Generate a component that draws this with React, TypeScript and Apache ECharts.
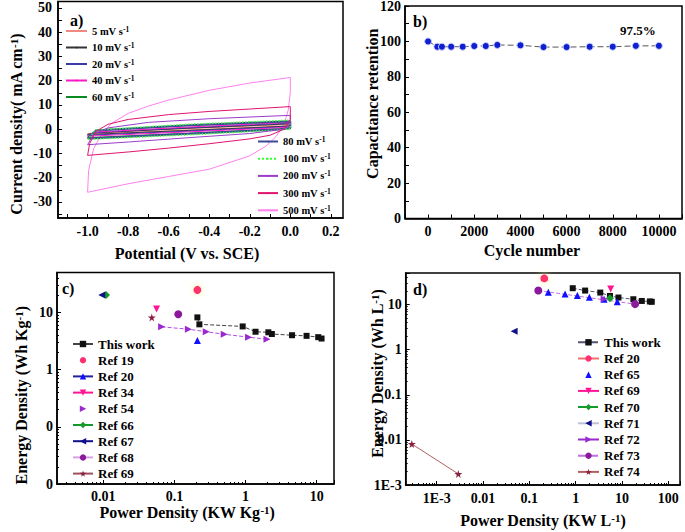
import React, { useEffect, useRef } from 'react';
import * as echarts from 'echarts';

// ---------- Panel a: CV curves (potential V, current mA cm-2) ----------
const cvNames = ['5 mV s-1', '10 mV s-1', '20 mV s-1', '40 mV s-1', '60 mV s-1', '80 mV s-1', '100 mV s-1', '200 mV s-1', '300 mV s-1', '500 mV s-1'];
const cv5 = [[-1, -1.9], [-0.96, -1.4], [-0.5, 0.3], [0, 1.9], [0, 1.4], [-0.05, 1.2], [-0.5, -0.3], [-1, -1.9]];
const cv10 = [[-1, -2.2], [-0.96, -1.5], [-0.5, 0.4], [0, 2.2], [0, 1.4], [-0.05, 1.1], [-0.5, -0.5], [-1, -2.2]];
const cv20 = [[-1, -2.5], [-0.96, -1.4], [-0.5, 0.6], [0, 2.5], [0, 1.2], [-0.05, 0.9], [-0.5, -0.8], [-1, -2.5]];
const cv40 = [[-1, -2.9], [-0.96, -1.2], [-0.5, 0.9], [0, 2.8], [0, 1.0], [-0.05, 0.6], [-0.5, -1.1], [-1, -2.9]];
const cv60 = [[-1, -3.5], [-0.96, -0.5], [-0.5, 1.5], [0, 3.2], [0, 0.6], [-0.05, 0.1], [-0.5, -1.7], [-1, -3.5]];
const cv80 = [[-1, -3.8], [-0.96, -0.6], [-0.5, 1.6], [0, 3.3], [0, 0.4], [-0.05, 0], [-0.5, -1.9], [-1, -3.8]];
const cv100 = [[-1, -4.2], [-0.96, -0.3], [-0.5, 2.0], [0, 3.7], [0, 0.2], [-0.05, -0.3], [-0.5, -2.3], [-1, -4.2]];
const cv200 = [[-1, -6.4], [-0.97, -2], [-0.9, 0.5], [-0.7, 2.8], [-0.4, 4.3], [0, 5.7], [0, 2], [-0.03, 0], [-0.2, -1.8], [-0.5, -3.5], [-0.8, -5.3], [-1, -6.4]];
const cv300 = [[-1, -10.8], [-0.99, -6], [-0.96, -1], [-0.9, 2], [-0.8, 4], [-0.6, 6], [-0.4, 7.3], [-0.2, 8.3], [0, 9.3], [0, 4], [-0.03, 0], [-0.1, -2.5], [-0.2, -4], [-0.4, -6], [-0.6, -7.8], [-0.8, -9.4], [-1, -10.8]];
const cv500 = [[-1, -26], [-0.995, -17], [-0.97, -8], [-0.93, -2], [-0.88, 2.5], [-0.8, 6.5], [-0.7, 9.5], [-0.6, 12], [-0.4, 16], [-0.2, 19], [0, 21.3], [0, 15], [-0.01, 8], [-0.03, 2], [-0.07, -3], [-0.12, -7], [-0.2, -11], [-0.4, -16.5], [-0.6, -19.5], [-0.8, -22.5], [-1, -26]];
const cvLoops = [cv5, cv10, cv20, cv40, cv60, cv80, cv100, cv200, cv300, cv500];
const aXLabelVals = [-1.0, -0.8, -0.6, -0.4, -0.2, 0.0, 0.2];
const aXTickVals = [-1.1, -1.0, -0.9, -0.8, -0.7, -0.6, -0.5, -0.4, -0.3, -0.2, -0.1, 0.0, 0.1, 0.2];
const aYLabelVals = [-30, -20, -10, 0, 10, 20, 30, 40, 50];
const aYTickVals = [-35, -30, -25, -20, -15, -10, -5, 0, 5, 10, 15, 20, 25, 30, 35, 40, 45, 50];

// ---------- Panel b: cycling ----------
const cycles = [0, 400, 600, 1000, 1500, 2000, 2500, 3000, 4000, 5000, 6000, 7000, 8000, 9000, 10000];
const retention = [100, 97, 97, 97, 97, 97.4, 97.4, 98, 97.8, 96.8, 96.8, 97, 97, 97.5, 97.5];
const bXLabelVals = [0, 2000, 4000, 6000, 8000, 10000];
const bXTickVals = [-1000, 0, 1000, 2000, 3000, 4000, 5000, 6000, 7000, 8000, 9000, 10000, 11000];
const bYLabelVals = [0, 20, 40, 60, 80, 100, 120];
const bYTickVals = [0, 10, 20, 30, 40, 50, 60, 70, 80, 90, 100, 110, 120];

// ---------- Panel c: Ragone (gravimetric) ----------
const cThisP = [0.21, 0.224, 0.91, 1.38, 2.09, 2.34, 4.5, 7.2, 10.5, 11.7];
const cThisE = [8.2, 6.2, 5.7, 4.6, 4.5, 4.2, 4.0, 3.9, 3.7, 3.5];
const cRef19P = [0.21]; const cRef19E = [24.8];
const cRef20P = [0.21]; const cRef20E = [3.25];
const cRef34P = [0.056]; const cRef34E = [11.5];
const cRef54P = [0.066, 0.157, 0.28, 0.5, 1.1, 2.0];
const cRef54E = [5.6, 5.1, 4.6, 4.15, 3.7, 3.4];
const cRef66P = [0.0109]; const cRef66E = [20.2];
const cRef67P = [0.0095]; const cRef67E = [20.2];
const cRef68P = [0.113]; const cRef68E = [9.3];
const cRef69P = [0.048]; const cRef69E = [8.2];
const cXLabelVals = [0.01, 0.1, 1, 10];
const cXLabels = ['0.01', '0.1', '1', '10'];
const cYLabelVals = [0.01, 0.1, 1, 10];
const cYLabels = ['0', '0', '1', '10'];

// ---------- Panel d: Ragone (volumetric) ----------
const dThisP = [0.865, 1.6, 3.4, 5.5, 8.4, 17.6, 26.8, 40, 44];
const dThisE = [23, 20.4, 18.4, 15.5, 14.3, 13.1, 12, 11.7, 11.5];
const dRef20P = [0.21]; const dRef20E = [38];
const dRef65P = [0.257, 0.59, 1.09, 1.98, 4.1, 7.9];
const dRef65E = [18.7, 17.2, 15.8, 14.5, 13.1, 11.6];
const dRef69P = [5.7]; const dRef69E = [22];
const dRef70P = [5.5]; const dRef70E = [13.8];
const dRef71P = [0.047]; const dRef71E = [2.57];
const dRef72P = [4.1]; const dRef72E = [13.3];
const dRef73P = [0.156, 19.2]; const dRef73E = [20.4, 10.2];
const dRef74P = [0.00029, 0.00293]; const dRef74E = [0.0081, 0.00176];
const dXLabelVals = [0.001, 0.01, 0.1, 1, 10, 100];
const dXLabels = ['1E-3', '0.01', '0.1', '1', '10', '100'];
const dYLabelVals = [0.001, 0.01, 0.1, 1, 10];
const dYLabels = ['1E-3', '0.01', '0.1', '1', '10'];

// ---------- styling ----------
const FONT = "'Liberation Serif', 'Times New Roman', serif";
const STAR = 'path://M50,0 L61,35 L98,35 L68,57 L79,91 L50,70 L21,91 L32,57 L2,35 L39,35 Z';
const cvColors = ['#f08a80', '#333333', '#3a3aa8', '#ff18c8', '#0a8a20', '#3c4a96', '#33ff33', '#9a3ccc', '#e0146e', '#ff80ee'];
const cvWidths = [1, 1, 1, 1, 1, 2, 1.5, 1, 1, 1];

const zip = (xs: number[], ys: number[]) => xs.map((x, i) => [x, ys[i]]);
const logLabel = (vals: number[], labels: string[]) => (v: number) => {
  for (let i = 0; i < vals.length; i++) {
    if (Math.abs(Math.log10(v) - Math.log10(vals[i])) < 0.01) return labels[i];
  }
  return '';
};
const minorLogTicks = (min: number, max: number) => {
  const out: number[] = [];
  for (let e = -5; e <= 3; e++) {
    for (let m = 2; m <= 9; m++) {
      const v = m * Math.pow(10, e);
      if (v > min && v < max) out.push(Math.log10(v));
    }
  }
  return out;
};

const tickLbl = { fontFamily: FONT, fontWeight: 'bold' as const, fontSize: 14, color: '#000' };
const axisLine = { show: true, onZero: false, lineStyle: { color: '#000', width: 1.5 } };
const nameRich = {
  n: { fontFamily: FONT, fontWeight: 'bold', fontSize: 16, color: '#000' },
  s: { fontFamily: FONT, fontWeight: 'bold', fontSize: 11, color: '#000', verticalAlign: 'top' },
};
const nameStyle = (padding: number[]) => ({ fontFamily: FONT, fontWeight: 'bold', fontSize: 16, color: '#000', rich: nameRich, padding });

const C_MIN_X = 0.00223, C_MAX_X = 17.5, C_MIN_Y = 0.01, C_MAX_Y = 50;
const D_MIN_X = 0.000214, D_MAX_X = 179, D_MIN_Y = 0.001, D_MAX_Y = 50;

export default function App() {
  const ref = useRef<HTMLDivElement>(null);
  useEffect(() => {
    if (!ref.current) return;
    const chart = echarts.init(ref.current, undefined, { renderer: 'svg' });

    const linX = (gridIndex: number, min: number, max: number, labelVals: number[], tickVals: number[], fmt: (v: number) => string, name: string, nameGap: number, pad: number[]) => ({
      type: 'value', gridIndex, min, max, position: 'bottom',
      axisLine,
      axisTick: { show: true, inside: true, length: 4, lineStyle: { color: '#000', width: 1 }, customValues: tickVals },
      axisLabel: { ...tickLbl, margin: 6, customValues: labelVals, formatter: fmt, showMinLabel: true, showMaxLabel: true, hideOverlap: false },
      splitLine: { show: false },
      name, nameLocation: 'middle', nameGap, nameMoveOverlap: false, nameTextStyle: nameStyle(pad),
    });
    const linY = (gridIndex: number, min: number, max: number, labelVals: number[], tickVals: number[], name: string, nameGap: number, pad: number[], margin: number) => ({
      type: 'value', gridIndex, min, max, position: 'left',
      axisLine,
      axisTick: { show: true, inside: true, length: 4, lineStyle: { color: '#000', width: 1 }, customValues: tickVals },
      axisLabel: { ...tickLbl, margin, customValues: labelVals, formatter: (v: number) => String(v), showMinLabel: true, showMaxLabel: true },
      splitLine: { show: false },
      name, nameLocation: 'middle', nameGap, nameRotate: 90, nameMoveOverlap: false, nameTextStyle: nameStyle(pad),
    });
    const logAxis = (gridIndex: number, min: number, max: number, vals: number[], labels: string[], pos: string, name: string, nameGap: number, pad: number[], margin: number) => ({
      type: 'log', logBase: 10, gridIndex, min, max, position: pos,
      axisLine,
      axisTick: { show: true, inside: true, length: 4, lineStyle: { color: '#000', width: 1 } },
      axisLabel: { ...tickLbl, margin, showMinLabel: true, showMaxLabel: true, formatter: logLabel(vals, labels) },
      splitLine: { show: false }, minorTick: { show: false },
      name, nameLocation: 'middle', nameGap, nameRotate: pos === 'left' ? 90 : 0, nameMoveOverlap: false, nameTextStyle: nameStyle(pad),
    });
    const minorAxis = (gridIndex: number, min: number, max: number, pos: string) => ({
      type: 'value', gridIndex, min: Math.log10(min), max: Math.log10(max), position: pos,
      axisLine: { show: false, onZero: false },
      axisTick: { show: true, inside: true, length: 2, lineStyle: { color: '#000', width: 1 }, customValues: minorLogTicks(min, max) },
      axisLabel: { show: false }, splitLine: { show: false },
    });

    const cvSeries = cvNames.map((name, i) => ({
      type: 'line', name, xAxisIndex: 0, yAxisIndex: 0, data: cvLoops[i], symbol: 'none',
      lineStyle: { color: cvColors[i], width: cvWidths[i], type: i === 6 ? 'dotted' : 'solid' },
      itemStyle: { color: cvColors[i] }, z: i === 9 ? 1 : 2,
    }));

    const pt = (name: string, xi: number, yi: number, data: number[][], symbol: string, color: string, opts: any = {}) => ({
      type: 'line', name, xAxisIndex: xi, yAxisIndex: yi, data, symbol, symbolSize: opts.size || 7,
      symbolRotate: opts.rot || 0,
      itemStyle: { color, ...(opts.glow ? { shadowColor: '#fff09a', shadowBlur: 6 } : {}) },
      lineStyle: { color: opts.lineColor || color, width: opts.lw || 1, type: opts.dash ? 'dashed' : 'solid', opacity: opts.noLine ? 0 : 1 },
      z: 3,
    });

    const series: any[] = [
      ...cvSeries,
      {
        type: 'line', name: 'b|cycle', xAxisIndex: 1, yAxisIndex: 1, data: zip(cycles, retention),
        symbol: 'circle', symbolSize: 7, itemStyle: { color: '#1020d0', borderColor: '#c8d0ff', borderWidth: 1 },
        lineStyle: { color: '#555', width: 1, type: [6, 3] },
      },
      pt('c|This work', 2, 2, zip(cThisP, cThisE), 'rect', '#111', { lineColor: '#444', dash: true, size: 6 }),
      pt('c|Ref 19', 2, 2, zip(cRef19P, cRef19E), 'circle', '#ff3070', { size: 8, noLine: true, glow: true }),
      pt('c|Ref 20', 2, 2, zip(cRef20P, cRef20E), 'triangle', '#1010ff', { lineColor: '#2020a0' }),
      pt('c|Ref 34', 2, 2, zip(cRef34P, cRef34E), 'triangle', '#ff1493', { rot: 180 }),
      pt('c|Ref 54', 2, 2, zip(cRef54P, cRef54E), 'triangle', '#9a2ad0', { rot: -90, dash: true, lineColor: '#b050e0' }),
      pt('c|Ref 66', 2, 2, zip(cRef66P, cRef66E), 'diamond', '#139a2a', { size: 8 }),
      pt('c|Ref 67', 2, 2, zip(cRef67P, cRef67E), 'triangle', '#10108a', { rot: 90 }),
      pt('c|Ref 68', 2, 2, zip(cRef68P, cRef68E), 'circle', '#8a1a9a', { lineColor: '#d8a0e8', size: 8 }),
      pt('c|Ref 69', 2, 2, zip(cRef69P, cRef69E), STAR, '#8a2040', { lineColor: '#a05060', size: 8 }),
      pt('d|This work', 3, 3, zip(dThisP, dThisE), 'rect', '#111', { lineColor: '#555577', dash: true, size: 6 }),
      pt('d|Ref 20', 3, 3, zip(dRef20P, dRef20E), 'circle', '#ff3070', { lineColor: '#f07070', size: 8, glow: true }),
      pt('d|Ref 65', 3, 3, zip(dRef65P, dRef65E), 'triangle', '#1010ff', { noLine: true }),
      pt('d|Ref 69', 3, 3, zip(dRef69P, dRef69E), 'triangle', '#ff1493', { rot: 180 }),
      pt('d|Ref 70', 3, 3, zip(dRef70P, dRef70E), 'diamond', '#139a2a', { dash: true, size: 8 }),
      pt('d|Ref 71', 3, 3, zip(dRef71P, dRef71E), 'triangle', '#10108a', { rot: 90, lineColor: '#c0c0d8' }),
      pt('d|Ref 72', 3, 3, zip(dRef72P, dRef72E), 'triangle', '#9a2ad0', { rot: -90 }),
      pt('d|Ref 73', 3, 3, zip(dRef73P, dRef73E), 'circle', '#8a1a9a', { lineColor: '#c070e0', dash: true, size: 8 }),
      pt('d|Ref 74', 3, 3, zip(dRef74P, dRef74E), STAR, '#8a2040', { lineColor: '#b06060', size: 8 }),
    ];

    const legendTxt = { fontFamily: FONT, fontWeight: 'bold' as const, fontSize: 13, color: '#000', lineHeight: 14 };
    const cvLegendText = {
      fontFamily: FONT, fontWeight: 'bold', fontSize: 10.5, color: '#000',
      rich: {
        n: { fontFamily: FONT, fontWeight: 'bold', fontSize: 10.5, color: '#000', lineHeight: 12 },
        s: { fontFamily: FONT, fontWeight: 'bold', fontSize: 7.5, color: '#000', verticalAlign: 'top', lineHeight: 7 },
      },
    };
    const cvFmt = (name: string) => `{n|${name.slice(0, -2)}}{s|-1}`;
    const stripFmt = (name: string) => name.split('|')[1];
    const noLine = (name: string) => ({ name, lineStyle: { opacity: 0 } });

    const option: any = {
      animation: false,
      backgroundColor: '#fff',
      grid: [
        { left: 58, top: 1.5, width: 285, height: 216.5, show: true, borderColor: '#000', borderWidth: 1.5, backgroundColor: 'transparent', outerBoundsMode: 'none' },
        { left: 405, top: 6, width: 277, height: 212.5, show: true, borderColor: '#000', borderWidth: 1.5, backgroundColor: 'transparent', outerBoundsMode: 'none' },
        { left: 57, top: 272.5, width: 277, height: 211.5, show: true, borderColor: '#000', borderWidth: 1.5, backgroundColor: 'transparent', outerBoundsMode: 'none' },
        { left: 405.7, top: 273, width: 274.3, height: 212, show: true, borderColor: '#000', borderWidth: 1.5, backgroundColor: 'transparent', outerBoundsMode: 'none' },
      ],
      xAxis: [
        linX(0, -1.146, 0.26, aXLabelVals, aXTickVals, (v: number) => v.toFixed(1), 'Potential (V vs. SCE)', 27, [0, 27, 0, 0]),
        linX(1, -1000, 11000, bXLabelVals, bXTickVals, (v: number) => String(v), 'Cycle number', 24, [0, 23, 0, 0]),
        logAxis(2, C_MIN_X, C_MAX_X, cXLabelVals, cXLabels, 'bottom', '{n|Power Density (KW Kg}{s|-1}{n|)}', 20, [0, 17, 0, 0], 5),
        logAxis(3, D_MIN_X, D_MAX_X, dXLabelVals, dXLabels, 'bottom', '{n|Power Density (KW L}{s|-1}{n|)}', 27, [0, 0, 0, 0], 6),
        minorAxis(2, C_MIN_X, C_MAX_X, 'bottom'),
        minorAxis(3, D_MIN_X, D_MAX_X, 'bottom'),
      ],
      yAxis: [
        linY(0, -36.6, 52.6, aYLabelVals, aYTickVals, '{n|Current density( mA cm}{s|-1}{n|)}', 34, [0, 29, 0, 0], 6),
        linY(1, 0, 120, bYLabelVals, bYTickVals, 'Capacitance retention', 25, [0, 0, 0, 17], 4),
        logAxis(2, C_MIN_Y, C_MAX_Y, cYLabelVals, cYLabels, 'left', '{n|Energy Density (Wh Kg}{s|-1}{n|)}', 28, [0, 34, 0, 0], 4),
        logAxis(3, D_MIN_Y, D_MAX_Y, dYLabelVals, dYLabels, 'left', '{n|Energy Density (Wh L}{s|-1}{n|)}', 20, [0, 0, 0, 11], 4),
        minorAxis(2, C_MIN_Y, C_MAX_Y, 'left'),
        minorAxis(3, D_MIN_Y, D_MAX_Y, 'left'),
      ],
      legend: [
        {
          data: cvNames.slice(0, 5), orient: 'vertical', left: 65, top: 25, padding: 0, itemWidth: 21, itemHeight: 2, itemGap: 5,
          formatter: cvFmt, textStyle: cvLegendText, selectedMode: false,
        },
        {
          data: cvNames.slice(5), orient: 'vertical', left: 257, top: 135.5, padding: 0, itemWidth: 20, itemHeight: 2, itemGap: 5.7,
          formatter: cvFmt, textStyle: cvLegendText, selectedMode: false,
        },
        {
          data: ['c|This work', noLine('c|Ref 19'), 'c|Ref 20', 'c|Ref 34', noLine('c|Ref 54'), 'c|Ref 66', 'c|Ref 67', 'c|Ref 68', 'c|Ref 69'],
          orient: 'vertical', left: 72, top: 337, padding: 0, itemWidth: 20, itemHeight: 8, itemGap: 2.2,
          formatter: stripFmt, textStyle: legendTxt, selectedMode: false,
        },
        {
          data: ['d|This work', 'd|Ref 20', noLine('d|Ref 65'), 'd|Ref 69', 'd|Ref 70', 'd|Ref 71', 'd|Ref 72', 'd|Ref 73', 'd|Ref 74'],
          orient: 'vertical', left: 577, top: 335.3, padding: 0, itemWidth: 21, itemHeight: 8, itemGap: 2.2,
          formatter: stripFmt, textStyle: legendTxt, selectedMode: false,
        },
      ],
      graphic: [
        { type: 'text', left: 70, top: 12, style: { text: 'a)', font: `bold 16px ${FONT}`, fill: '#000' } },
        { type: 'text', left: 413, top: 13, style: { text: 'b)', font: `bold 16px ${FONT}`, fill: '#000' } },
        { type: 'text', left: 620, top: 24, style: { text: '97.5%', font: `bold 13px ${FONT}`, fill: '#000' } },
        { type: 'text', left: 62, top: 280, style: { text: 'c)', font: `bold 16px ${FONT}`, fill: '#000' } },
        { type: 'text', left: 413, top: 281, style: { text: 'd)', font: `bold 16px ${FONT}`, fill: '#000' } },
      ],
      series,
    };

    chart.setOption(option);
    return () => chart.dispose();
  }, []);

  return <div ref={ref} style={{ position: 'absolute', left: 0, top: 0, width: 685, height: 532, background: '#fff' }} />;
}
